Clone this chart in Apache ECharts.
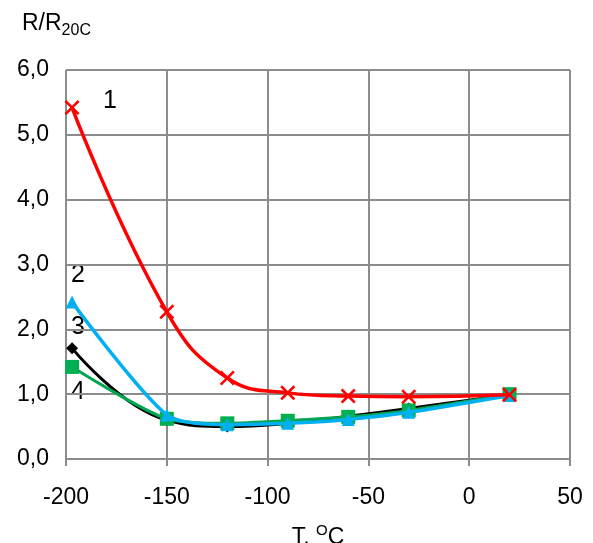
<!DOCTYPE html>
<html><head><meta charset="utf-8">
<script src="https://cdn.jsdelivr.net/npm/echarts@6/dist/echarts.min.js"></script>
<style>html,body{margin:0;padding:0;background:#fff}#c{width:593px;height:543px}</style>
</head><body><div id="c"></div>
<script>
const temps = [-197, -150, -120, -90, -60, -30, 20];
const s1 = [5.42, 2.27, 1.25, 1.02, 0.97, 0.96, 0.99];
const s2 = [2.42, 0.68, 0.53, 0.55, 0.61, 0.72, 0.98];
const s3 = [1.71, 0.60, 0.50, 0.55, 0.66, 0.78, 0.99];
const s4 = [1.42, 0.62, 0.55, 0.59, 0.65, 0.75, 1.00];
const xTicks = [-200, -150, -100, -50, 0, 50];
const yTicks = [0, 1, 2, 3, 4, 5, 6];
const seriesNames = ['1', '2', '3', '4'];

const pair = arr => temps.map((t, i) => [t, arr[i]]);
const cross = 'path://M0,1.2L1.2,0L5,3.8L8.8,0L10,1.2L6.2,5L10,8.8L8.8,10L5,6.2L1.2,10L0,8.8L3.8,5Z';
const font = 'Liberation Sans, Arial, sans-serif';
const gridColor = '#8c8c8c';

const chart = echarts.init(document.getElementById('c'));
chart.setOption({
  animation: false,
  backgroundColor: '#fff',
  grid: { left: 66, right: 23, top: 70, bottom: 84, containLabel: false, outerBoundsMode: 'none' },
  xAxis: {
    type: 'value', min: xTicks[0], max: xTicks[xTicks.length - 1], interval: 50,
    axisLine: { show: true, onZero: false, lineStyle: { color: gridColor, width: 2 } },
    axisTick: { show: true, length: 7, lineStyle: { color: gridColor, width: 2 } },
    splitLine: { show: true, lineStyle: { color: gridColor, width: 2 } },
    axisLabel: { fontSize: 23, color: '#000', fontFamily: font, margin: 27 },
    name: '{n|T, }{sup|O}{n|C}', nameLocation: 'middle', nameGap: 64,
    nameTextStyle: { rich: {
      n: { fontSize: 23, color: '#000', fontFamily: font, verticalAlign: 'bottom', height: 24 },
      sup: { fontSize: 15, color: '#000', fontFamily: font, verticalAlign: 'top', padding: [0, 0, 12, 0] }
    } }
  },
  yAxis: {
    type: 'value', min: yTicks[0], max: yTicks[yTicks.length - 1], interval: 1,
    axisLine: { show: true, lineStyle: { color: gridColor, width: 2 } },
    axisTick: { show: true, length: 8, lineStyle: { color: gridColor, width: 2 } },
    splitLine: { show: true, lineStyle: { color: gridColor, width: 2 } },
    axisLabel: { fontSize: 23, color: '#000', fontFamily: font, margin: 17,
      formatter: v => v.toFixed(1).replace('.', ',') }
  },
  graphic: [
    { type: 'text', left: 22, top: 12, style: { text: '{n|R/R}{sub|20C}', rich: {
      n: { fontSize: 23, fill: '#000', fontFamily: font },
      sub: { fontSize: 16, fill: '#000', fontFamily: font, padding: [14, 0, 0, 0] } } } },
    { type: 'text', left: 103, top: 89, style: { text: seriesNames[0], fontSize: 25, fill: '#000', fontFamily: font } },
    { type: 'text', left: 71, top: 263, style: { text: seriesNames[1], fontSize: 25, fill: '#000', fontFamily: font } },
    { type: 'text', left: 71, top: 315, style: { text: seriesNames[2], fontSize: 25, fill: '#000', fontFamily: font } },
    { type: 'text', left: 71, top: 380, style: { text: seriesNames[3], fontSize: 25, fill: '#000', fontFamily: font } }
  ],
  series: [
    { name: seriesNames[2], type: 'line', data: pair(s3), smooth: 0.45, z: 2,
      lineStyle: { color: '#000', width: 3 }, symbol: 'diamond', symbolSize: 12,
      itemStyle: { color: '#000' } },
    { name: seriesNames[3], type: 'line', data: pair(s4), smooth: 0.25, z: 3,
      lineStyle: { color: '#00a651', width: 3 }, symbol: 'rect', symbolSize: 14,
      itemStyle: { color: '#00b050' } },
    { name: seriesNames[1], type: 'line', data: pair(s2), smooth: 0.25, z: 4,
      lineStyle: { color: '#00b0f0', width: 3.5 }, symbol: 'triangle', symbolSize: 13,
      itemStyle: { color: '#00b0f0' } },
    { name: seriesNames[0], type: 'line', data: pair(s1), smooth: 0.45, z: 5,
      lineStyle: { color: '#ff0000', width: 3.5 }, symbol: cross, symbolSize: 15,
      itemStyle: { color: '#ff0000' } }
  ]
});
</script></body></html>
